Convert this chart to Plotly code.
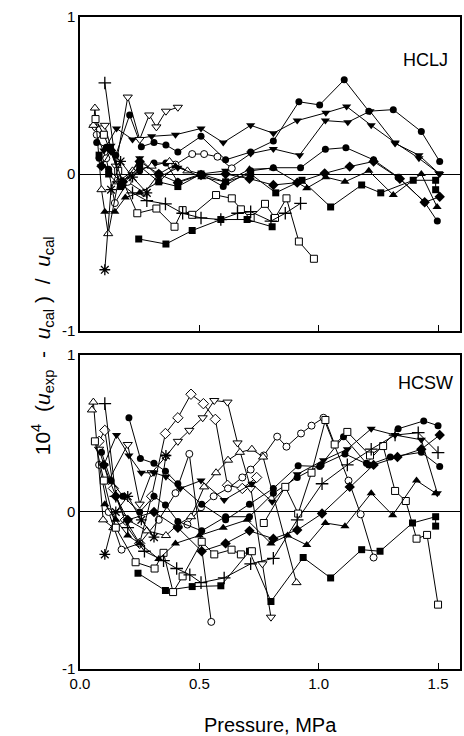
import plotly.graph_objects as go

# ---------------- HCLJ (top panel) ----------------
hclj_fc1_p = [0.07, 0.11, 0.15, 0.208, 0.257, 0.31, 0.36, 0.41, 0.507, 0.61, 0.715, 0.81, 0.917, 1.004, 1.107, 1.21, 1.3125, 1.43, 1.507]
hclj_fc1_d = [0.20, 0.17, 0.12, 0.376, 0.174, 0.20, 0.185, 0.14, 0.24, 0.09, 0.14, 0.21, 0.46, 0.44, 0.60, 0.40, 0.41, 0.27, 0.08]

hclj_fc2_p = [0.08, 0.12, 0.17, 0.25, 0.31, 0.36, 0.41, 0.507, 0.60, 0.715, 0.81, 0.924, 1.028, 1.114, 1.23, 1.333, 1.444, 1.497]
hclj_fc2_d = [0.10, 0.03, -0.05, 0.02, 0.07, 0.07, -0.05, 0.0, -0.08, 0.02, 0.04, 0.04, 0.157, 0.168, 0.09, -0.02, -0.18, -0.30]

hclj_ftd1_p = [0.10, 0.153, 0.22, 0.30, 0.40, 0.507, 0.60, 0.715, 0.81, 0.91, 1.03, 1.117, 1.22, 1.32, 1.42, 1.507]
hclj_ftd1_d = [0.15, 0.29, 0.22, 0.24, 0.25, 0.29, 0.20, 0.31, 0.26, 0.34, 0.39, 0.43, 0.31, 0.20, 0.10, 0.0]

hclj_ftd2_p = [0.09, 0.13, 0.18, 0.25, 0.33, 0.41, 0.507, 0.61, 0.715, 0.81, 0.92, 1.028, 1.122, 1.215, 1.32, 1.42, 1.503]
hclj_ftd2_d = [0.05, 0.18, -0.08, 0.10, -0.02, 0.04, 0.0, 0.02, 0.13, 0.16, 0.12, 0.34, 0.33, 0.40, 0.195, 0.12, 0.004]

hclj_oc_p = [0.07, 0.11, 0.146, 0.20, 0.27, 0.33, 0.40, 0.47, 0.52, 0.576, 0.636]
hclj_oc_d = [0.25, 0.10, -0.185, -0.05, -0.12, 0.0, 0.06, 0.127, 0.127, 0.11, 0.036]

hclj_otd_p = [0.06, 0.104, 0.15, 0.20, 0.25, 0.29, 0.32, 0.36, 0.41]
hclj_otd_d = [0.30, 0.31, 0.05, 0.49, 0.22, 0.376, 0.30, 0.40, 0.425]

hclj_ota_p = [0.056, 0.0625, 0.09, 0.118, 0.16, 0.22, 0.30, 0.375, 0.45]
hclj_ota_d = [0.31, 0.42, -0.10, -0.38, -0.05, 0.02, 0.05, 0.08, 0.02]

hclj_osq_p = [0.065, 0.10, 0.16, 0.24, 0.32, 0.396, 0.43, 0.47, 0.57, 0.636, 0.674, 0.715, 0.775, 0.817, 0.865, 0.917, 0.98]
hclj_osq_d = [0.35, 0.25, 0.02, -0.25, -0.22, -0.336, -0.23, -0.26, -0.134, -0.155, -0.225, -0.28, -0.19, -0.28, -0.155, -0.43, -0.54]

hclj_fsq1_p = [0.246, 0.36, 0.47, 0.59, 0.70, 0.805]
hclj_fsq1_d = [-0.414, -0.446, -0.36, -0.29, -0.29, -0.336]

hclj_fsq2_p = [0.08, 0.12, 0.17, 0.25, 0.33, 0.41, 0.507, 0.61, 0.715, 0.82, 0.93, 1.05, 1.18, 1.26, 1.396, 1.49, 1.49]
hclj_fsq2_d = [0.12, 0.0, -0.08, 0.05, -0.05, -0.08, 0.0, -0.05, 0.0, -0.12, -0.04, -0.21, -0.07, -0.12, -0.04, -0.04, -0.10]

hclj_fdi_p = [0.09, 0.13, 0.18, 0.25, 0.33, 0.41, 0.507, 0.61, 0.71, 0.81, 0.91, 1.025, 1.13, 1.23, 1.34, 1.444, 1.507]
hclj_fdi_d = [0.05, 0.15, -0.05, 0.08, 0.0, -0.055, -0.006, 0.0, -0.03, -0.07, -0.055, 0.004, 0.047, 0.08, -0.03, -0.18, -0.145]

hclj_fta_p = [0.104, 0.146, 0.19, 0.25, 0.33, 0.40, 0.51, 0.61, 0.71, 0.81, 0.95, 1.03, 1.11, 1.21, 1.3125, 1.43, 1.496]
hclj_fta_d = [-0.24, -0.24, -0.15, -0.12, -0.05, 0.05, -0.02, -0.05, 0.03, 0.036, -0.09, -0.02, -0.05, 0.02, -0.134, 0.0, -0.21]

hclj_plus_p = [0.104, 0.16, 0.22, 0.28, 0.358, 0.43, 0.507, 0.59, 0.66, 0.715, 0.80, 0.86, 0.924]
hclj_plus_d = [0.58, -0.05, -0.12, -0.17, -0.19, -0.25, -0.28, -0.29, -0.25, -0.24, -0.30, -0.25, -0.187]

hclj_star_p = [0.104, 0.13, 0.17, 0.22, 0.28]
hclj_star_d = [-0.61, -0.10, 0.08, -0.02, -0.12]

# ---------------- HCSW (bottom panel) ----------------
hcsw_odi_p = [0.08, 0.104, 0.14, 0.19, 0.25, 0.30, 0.358, 0.41, 0.465, 0.517, 0.567, 0.618, 0.68, 0.74]
hcsw_odi_d = [0.45, 0.52, 0.15, -0.05, -0.20, 0.10, 0.50, 0.60, 0.75, 0.69, 0.59, 0.17, 0.15, 0.22]

hcsw_otd_p = [0.08, 0.12, 0.20, 0.25, 0.30, 0.358, 0.41, 0.458, 0.514, 0.5625, 0.618, 0.66, 0.716, 0.764, 0.80]
hcsw_otd_d = [0.40, 0.20, 0.43, 0.05, 0.25, 0.35, 0.45, 0.52, 0.60, 0.71, 0.70, 0.44, 0.15, -0.33, -0.67]

hcsw_oc1_p = [0.08, 0.12, 0.174, 0.25, 0.33, 0.40, 0.458, 0.55]
hcsw_oc1_d = [0.30, 0.0, -0.24, -0.20, -0.05, 0.12, 0.37, -0.70]

hcsw_oc2_p = [0.45, 0.507, 0.56, 0.62, 0.68, 0.715, 0.77, 0.826, 0.865, 0.926, 0.97, 1.02, 1.125, 1.176, 1.23]
hcsw_oc2_d = [-0.08, 0.03, 0.10, 0.15, 0.22, 0.27, 0.36, 0.48, 0.416, 0.50, 0.55, 0.60, 0.20, -0.015, -0.29]

hcsw_ota_p = [0.05, 0.056, 0.097, 0.14, 0.20, 0.28, 0.36, 0.41, 0.465, 0.52, 0.57, 0.62, 0.67, 0.72, 0.767, 0.907]
hcsw_ota_d = [0.65, 0.70, -0.05, -0.10, -0.05, -0.12, -0.15, -0.08, -0.03, 0.16, 0.25, 0.33, 0.38, 0.40, 0.35, -0.45]

hcsw_fc1_p = [0.205, 0.253, 0.31, 0.358, 0.41, 0.51, 0.61, 0.71, 0.81, 0.914, 1.004, 1.104, 1.20, 1.333, 1.44, 1.50]
hcsw_fc1_d = [0.60, 0.34, 0.31, 0.26, 0.18, 0.05, -0.05, 0.05, 0.15, 0.295, 0.29, 0.48, 0.31, 0.53, 0.58, 0.55]

hcsw_fc2_p = [0.09, 0.13, 0.18, 0.25, 0.31, 0.358, 0.41, 0.51, 0.61, 0.71, 0.81, 0.91, 1.01, 1.11, 1.21, 1.30, 1.43, 1.507]
hcsw_fc2_d = [0.38, 0.20, 0.10, 0.0, 0.10, 0.045, -0.06, -0.12, -0.03, -0.03, 0.12, 0.22, 0.30, 0.37, 0.30, 0.35, 0.38, 0.29]

hcsw_ftd_p = [0.10, 0.153, 0.205, 0.257, 0.31, 0.36, 0.42, 0.507, 0.604, 0.72, 0.805, 0.91, 1.02, 1.12, 1.22, 1.32, 1.43, 1.497]
hcsw_ftd_d = [0.30, 0.49, 0.36, 0.25, 0.25, 0.225, 0.15, 0.20, 0.076, 0.18, 0.066, 0.24, 0.33, 0.40, 0.53, 0.49, 0.46, 0.12]

hcsw_fsq_p = [0.243, 0.358, 0.47, 0.59, 0.71, 0.80, 0.935, 1.05, 1.18, 1.257, 1.393, 1.49, 1.49]
hcsw_fsq_d = [-0.39, -0.50, -0.475, -0.47, -0.25, -0.57, -0.29, -0.42, -0.24, -0.25, -0.07, -0.03, -0.09]

hcsw_osq1_p = [0.0625, 0.10, 0.15, 0.233, 0.3125, 0.35, 0.39, 0.43, 0.51, 0.5625, 0.635, 0.674, 0.72]
hcsw_osq1_d = [0.45, 0.20, -0.10, -0.32, -0.36, -0.26, -0.51, -0.41, -0.19, -0.27, -0.24, -0.27, -0.25]

hcsw_osq2_p = [0.77, 0.86, 0.914, 0.97, 1.028, 1.067, 1.12, 1.215, 1.27, 1.32, 1.365, 1.41, 1.454, 1.50]
hcsw_osq2_d = [-0.07, 0.16, -0.01, 0.25, 0.586, 0.43, 0.51, 0.36, 0.42, 0.134, 0.07, -0.17, -0.146, -0.59]

hcsw_fdi_p = [0.10, 0.15, 0.20, 0.31, 0.41, 0.51, 0.61, 0.71, 0.81, 0.91, 1.014, 1.13, 1.23, 1.33, 1.43, 1.507]
hcsw_fdi_d = [0.30, 0.10, -0.05, 0.0, -0.10, -0.25, -0.20, -0.12, -0.17, -0.115, -0.01, 0.16, 0.30, 0.35, 0.40, 0.49]

hcsw_fta_p = [0.104, 0.15, 0.20, 0.25, 0.33, 0.40, 0.50, 0.60, 0.70, 0.80, 0.87, 0.95, 1.028, 1.11, 1.22, 1.31, 1.41, 1.49]
hcsw_fta_d = [0.05, -0.05, -0.15, -0.20, -0.30, -0.20, -0.15, -0.10, -0.05, -0.20, -0.15, -0.21, -0.07, -0.09, 0.12, -0.02, 0.20, 0.12]

hcsw_plus_p = [0.104, 0.15, 0.20, 0.27, 0.35, 0.405, 0.46, 0.507, 0.604, 0.715, 0.81, 0.91, 1.014, 1.12, 1.22, 1.32, 1.417, 1.50]
hcsw_plus_d = [0.69, 0.10, -0.10, -0.25, -0.31, -0.36, -0.40, -0.45, -0.42, -0.33, -0.295, -0.05, 0.18, 0.30, 0.40, 0.49, 0.505, 0.378]

hcsw_star_p = [0.104, 0.15, 0.20, 0.257, 0.31, 0.36]
hcsw_star_d = [-0.27, 0.0, 0.10, -0.05, -0.16, 0.36]

x_tick_vals = [0.0, 0.5, 1.0, 1.5]
x_tick_text = ["0.0", "0.5", "1.0", "1.5"]
y_tick_vals = [-1, 0, 1]
y_tick_text = ["-1", "0", "1"]

FONT = "Arial, Liberation Sans, sans-serif"

STYLES = {
    "fc": dict(symbol="circle", size=7, color="black", line=dict(color="black", width=0)),
    "oc": dict(symbol="circle", size=7, color="white", line=dict(color="black", width=1)),
    "ftd": dict(symbol="triangle-down", size=8, color="black", line=dict(color="black", width=0)),
    "otd": dict(symbol="triangle-down", size=8, color="white", line=dict(color="black", width=1)),
    "fta": dict(symbol="triangle-up", size=8, color="black", line=dict(color="black", width=0)),
    "ota": dict(symbol="triangle-up", size=8, color="white", line=dict(color="black", width=1)),
    "fsq": dict(symbol="square", size=7, color="black", line=dict(color="black", width=0)),
    "osq": dict(symbol="square", size=7, color="white", line=dict(color="black", width=1)),
    "fdi": dict(symbol="diamond", size=8, color="black", line=dict(color="black", width=0)),
    "odi": dict(symbol="diamond", size=8, color="white", line=dict(color="black", width=1)),
    "plus": dict(symbol="cross-thin-open", size=9, color="black", line=dict(color="black", width=1.3)),
    "star": dict(symbol="asterisk-open", size=9, color="black", line=dict(color="black", width=1.3)),
}

top_series = [
    (hclj_fc1_p, hclj_fc1_d, "fc"), (hclj_fc2_p, hclj_fc2_d, "fc"),
    (hclj_ftd1_p, hclj_ftd1_d, "ftd"), (hclj_ftd2_p, hclj_ftd2_d, "ftd"),
    (hclj_oc_p, hclj_oc_d, "oc"), (hclj_otd_p, hclj_otd_d, "otd"),
    (hclj_ota_p, hclj_ota_d, "ota"), (hclj_osq_p, hclj_osq_d, "osq"),
    (hclj_fsq1_p, hclj_fsq1_d, "fsq"), (hclj_fsq2_p, hclj_fsq2_d, "fsq"),
    (hclj_fdi_p, hclj_fdi_d, "fdi"), (hclj_fta_p, hclj_fta_d, "fta"),
    (hclj_plus_p, hclj_plus_d, "plus"), (hclj_star_p, hclj_star_d, "star"),
]
bottom_series = [
    (hcsw_odi_p, hcsw_odi_d, "odi"), (hcsw_otd_p, hcsw_otd_d, "otd"),
    (hcsw_oc1_p, hcsw_oc1_d, "oc"), (hcsw_oc2_p, hcsw_oc2_d, "oc"),
    (hcsw_ota_p, hcsw_ota_d, "ota"), (hcsw_fc1_p, hcsw_fc1_d, "fc"),
    (hcsw_fc2_p, hcsw_fc2_d, "fc"), (hcsw_ftd_p, hcsw_ftd_d, "ftd"),
    (hcsw_fsq_p, hcsw_fsq_d, "fsq"), (hcsw_osq1_p, hcsw_osq1_d, "osq"),
    (hcsw_osq2_p, hcsw_osq2_d, "osq"), (hcsw_fdi_p, hcsw_fdi_d, "fdi"),
    (hcsw_fta_p, hcsw_fta_d, "fta"), (hcsw_plus_p, hcsw_plus_d, "plus"),
    (hcsw_star_p, hcsw_star_d, "star"),
]

fig = go.Figure()
for xs, ys, st in top_series:
    fig.add_trace(go.Scatter(x=xs, y=ys, mode="lines+markers", xaxis="x2", yaxis="y2",
                             line=dict(color="black", width=1), marker=STYLES[st],
                             showlegend=False, hoverinfo="skip"))
for xs, ys, st in bottom_series:
    fig.add_trace(go.Scatter(x=xs, y=ys, mode="lines+markers", xaxis="x", yaxis="y",
                             line=dict(color="black", width=1), marker=STYLES[st],
                             showlegend=False, hoverinfo="skip"))

xcommon = dict(range=[0, 1.592], tickvals=x_tick_vals, ticktext=x_tick_text, ticks="inside",
               ticklen=6, tickwidth=1.2, tickcolor="black", showline=True, linecolor="black",
               linewidth=1.5, mirror=True, showgrid=False, zeroline=False,
               tickfont=dict(family=FONT, size=15, color="black"))
ycommon = dict(range=[-1, 1], tickvals=y_tick_vals, ticktext=y_tick_text, ticks="",
               showline=True, linecolor="black", linewidth=1.5, mirror=True, showgrid=False,
               zeroline=True, zerolinecolor="black", zerolinewidth=1.2,
               tickfont=dict(family=FONT, size=15, color="black"))

ytitle = ("10<sup>4</sup>&nbsp;&nbsp;(<i>u</i><sub>exp</sub>&nbsp;&nbsp;-&nbsp;&nbsp;"
          "<i>u</i><sub>cal</sub>&nbsp;)&nbsp;&nbsp;/&nbsp;&nbsp;<i>u</i><sub>cal</sub>")

fig.update_layout(
    width=464, height=736,
    margin=dict(l=80, r=2, t=17, b=67),
    paper_bgcolor="white", plot_bgcolor="white",
    xaxis=dict(domain=[0, 1], anchor="y", **xcommon),
    xaxis2=dict(domain=[0, 1], anchor="y2", matches="x", showticklabels=False,
                **{k: v for k, v in xcommon.items() if k != "tickfont"}),
    yaxis=dict(domain=[0, 0.4816], anchor="x", **ycommon),
    yaxis2=dict(domain=[0.5184, 1], anchor="x2", **ycommon),
    annotations=[
        dict(text="Pressure, MPa", xref="paper", yref="paper", x=0.5, y=-0.086,
             xanchor="center", yanchor="middle", showarrow=False,
             font=dict(family=FONT, size=20, color="black")),
        dict(text=ytitle, xref="paper", yref="paper", x=-0.1, y=0.495, textangle=-90,
             xanchor="center", yanchor="middle", showarrow=False,
             font=dict(family=FONT, size=21, color="black")),
        dict(text="HCLJ", xref="paper", yref="paper", x=0.908, y=0.934,
             xanchor="center", yanchor="middle", showarrow=False,
             font=dict(family=FONT, size=18, color="black")),
        dict(text="HCSW", xref="paper", yref="paper", x=0.908, y=0.4387,
             xanchor="center", yanchor="middle", showarrow=False,
             font=dict(family=FONT, size=18, color="black")),
    ],
)

fig.write_html("out.html")
